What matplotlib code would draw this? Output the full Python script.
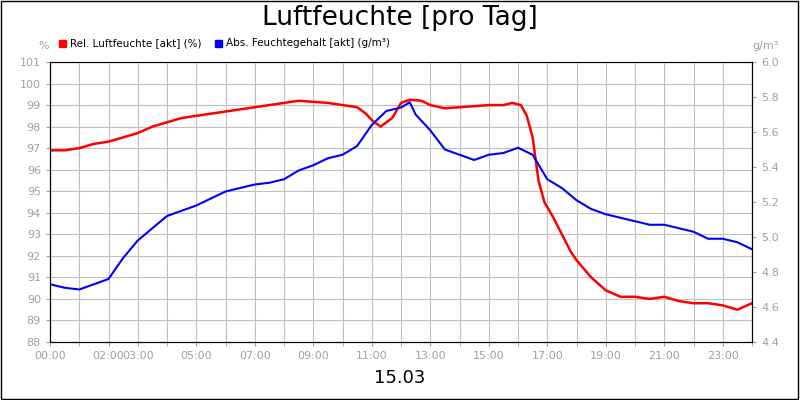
import numpy as np
import matplotlib
matplotlib.use('Agg')
import matplotlib.pyplot as plt
from matplotlib.patches import Rectangle

# relative humidity (%) over the day, hours
rel_h = [0, 0.5, 1, 1.5, 2, 2.5, 3, 3.5, 4, 4.5, 5, 5.5, 6, 6.5, 7, 7.5, 8, 8.5, 9, 9.5, 10,
         10.5, 10.8, 11, 11.3, 11.7, 12, 12.3, 12.7, 13, 13.5, 14, 14.5, 15, 15.5, 15.8, 16.1,
         16.3, 16.5, 16.7, 16.9, 17.2, 17.5, 17.8, 18, 18.5, 19, 19.5, 20, 20.5, 21, 21.5,
         22, 22.5, 23, 23.5, 24]
rel_v = [96.9, 96.9, 97.0, 97.2, 97.3, 97.5, 97.7, 98.0, 98.2, 98.4, 98.5, 98.6, 98.7, 98.8,
         98.9, 99.0, 99.1, 99.2, 99.15, 99.1, 99.0, 98.9, 98.6, 98.3, 98.0, 98.4, 99.1, 99.25,
         99.2, 99.0, 98.85, 98.9, 98.95, 99.0, 99.0, 99.1, 99.0, 98.5, 97.5, 95.5, 94.5, 93.8,
         93.0, 92.2, 91.8, 91.0, 90.4, 90.1, 90.1, 90.0, 90.1, 89.9, 89.8, 89.8, 89.7, 89.5,
         89.8]

# absolute moisture content (g/m³)
abs_h = [0, 0.5, 1, 1.5, 2, 2.5, 3, 3.5, 4, 4.5, 5, 5.5, 6, 6.5, 7, 7.5, 8, 8.5, 9, 9.5, 10,
         10.5, 11, 11.5, 12, 12.3, 12.5, 13, 13.5, 14, 14.5, 15, 15.5, 16, 16.5, 17, 17.5, 18,
         18.5, 19, 19.5, 20, 20.5, 21, 21.5, 22, 22.5, 23, 23.5, 24]
abs_v = [4.73, 4.71, 4.70, 4.73, 4.76, 4.88, 4.98, 5.05, 5.12, 5.15, 5.18, 5.22, 5.26, 5.28,
         5.30, 5.31, 5.33, 5.38, 5.41, 5.45, 5.47, 5.52, 5.64, 5.72, 5.74, 5.77, 5.70, 5.61,
         5.50, 5.47, 5.44, 5.47, 5.48, 5.51, 5.47, 5.33, 5.28, 5.21, 5.16, 5.13, 5.11, 5.09,
         5.07, 5.07, 5.05, 5.03, 4.99, 4.99, 4.97, 4.93]

tick_pos = [0, 2, 3, 5, 7, 9, 11, 13, 15, 17, 19, 21, 23]
tick_lbl = ['00:00', '02:00', '03:00', '05:00', '07:00', '09:00', '11:00', '13:00',
            '15:00', '17:00', '19:00', '21:00', '23:00']

fig = plt.figure(figsize=(8, 4), dpi=100)
fig.patches.append(Rectangle((0.001, 0.002), 0.997, 0.996, transform=fig.transFigure,
                             fill=False, edgecolor='black', lw=1))
ax = fig.add_axes([0.0625, 0.145, 0.8775, 0.70])
ax2 = ax.twinx()

ax.plot(rel_h, rel_v, color='#ff0000', lw=1.8)
ax2.plot(abs_h, abs_v, color='#0000ff', lw=1.5)

ax.set_xlim(0, 24)
ax.set_ylim(88, 101)
ax2.set_ylim(4.4, 6.0)
ax.set_yticks(np.arange(88, 102, 1))
ax2.set_yticks(np.arange(4.4, 6.01, 0.2))
ax2.set_yticklabels(['%.1f' % v for v in np.arange(4.4, 6.01, 0.2)])
ax.set_xticks(range(25), minor=True)
ax.set_xticks(tick_pos)
ax.set_xticklabels(tick_lbl)
ax.grid(True, which='both', axis='x', color='#c0c0c0', lw=0.8)
ax.grid(True, axis='y', color='#c0c0c0', lw=0.8)
ax.set_axisbelow(True)
for a in (ax, ax2):
    a.tick_params(labelsize=8, colors='#a0a0a0', labelcolor='#a0a0a0', length=3, which='both')
ax.tick_params(axis='x', which='minor', length=3)

fig.text(0.5, 0.955, 'Luftfeuchte [pro Tag]', ha='center', va='center', fontsize=19)
fig.text(0.5, 0.055, '15.03', ha='center', va='center', fontsize=13)
fig.text(0.048, 0.878, '%', fontsize=8, color='#a0a0a0', ha='left')
fig.text(0.94, 0.878, 'g/m³', fontsize=8, color='#a0a0a0', ha='left')

fig.patches.append(Rectangle((0.074, 0.883), 0.009, 0.018, transform=fig.transFigure,
                             color='#ff0000'))
fig.text(0.087, 0.892, 'Rel. Luftfeuchte [akt] (%)', fontsize=7.5, va='center')
fig.patches.append(Rectangle((0.269, 0.883), 0.009, 0.018, transform=fig.transFigure,
                             color='#0000ff'))
fig.text(0.282, 0.892, 'Abs. Feuchtegehalt [akt] (g/m³)', fontsize=7.5, va='center')

fig.savefig('out.png', dpi=100)
